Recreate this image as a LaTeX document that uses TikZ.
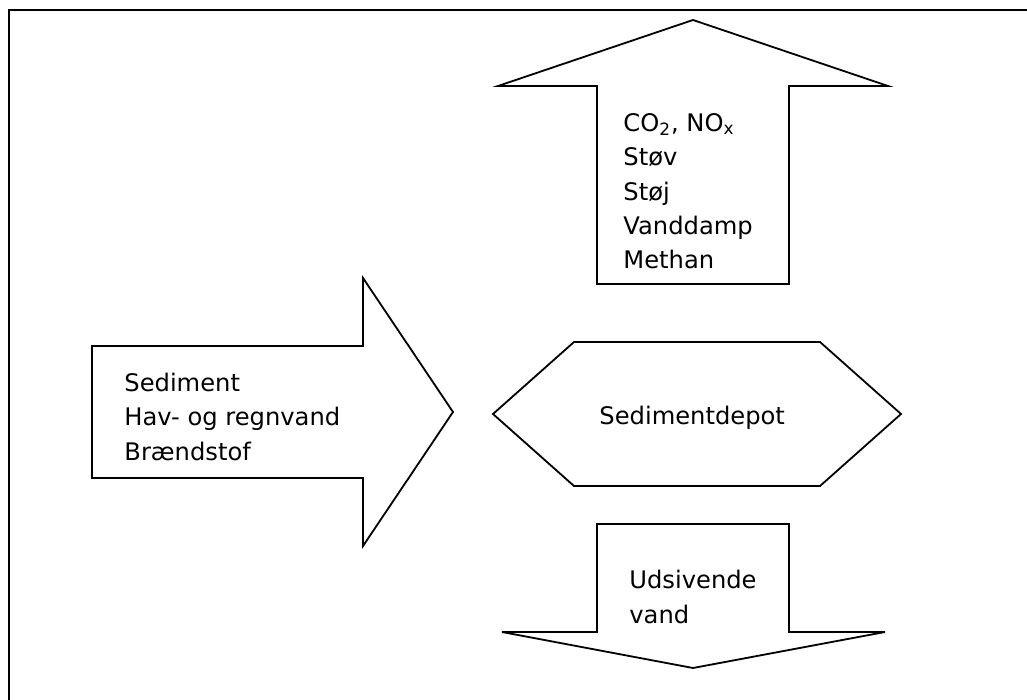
\documentclass[tikz,border=0pt]{standalone}
\usepackage{fontspec}
\setmainfont{DejaVu Sans}

\begin{document}
\begin{tikzpicture}[x=0.5pt,y=-0.5pt,
    flow/.style={draw,line width=0.9pt,line join=miter},
    txt/.style={anchor=base west,inner sep=0pt,align=left,font=\fontsize{12.1}{17.2}\selectfont}]
    \useasboundingbox (0,0) rectangle (1027,700);

    %frame
    \draw [line width=1.2pt] (9,700) to (9,10) to (1027,10);

    %emissions (up), base = last line
    \draw [flow] (597,284) -- (597,86) -- (498,86) -- (693,20) -- (888,86) -- (789,86) -- (789,284) -- cycle;
    \node [txt] (emission) at (623,269) {CO\textsubscript{2}, NO\textsubscript{x}\\Støv\\Støj\\Vanddamp\\Methan};

    %input (right)
    \draw [flow] (92,346) -- (363,346) -- (363,278) -- (453,412) -- (363,546) -- (363,478) -- (92,478) -- cycle;
    \node [txt] (input) at (124,460) {Sediment\\Hav- og regnvand\\Brændstof};

    %depot
    \draw [flow] (493,414) -- (574,342) -- (820,342) -- (901,414) -- (820,486) -- (574,486) -- cycle;
    \node [txt] (depot) at (599,424) {Sedimentdepot};

    %seepage (down)
    \draw [flow] (597,524) -- (789,524) -- (789,632) -- (885,632) -- (693,668) -- (502,632) -- (597,632) -- cycle;
    \node [txt] (seepage) at (629,623) {Udsivende\\vand};
\end{tikzpicture}
\end{document}
